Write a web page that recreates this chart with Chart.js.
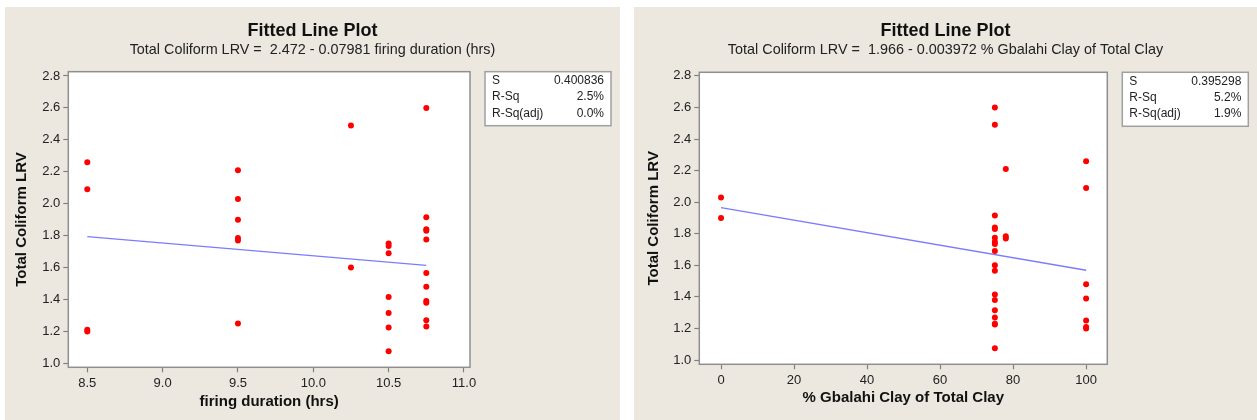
<!DOCTYPE html>
<html>
<head>
<meta charset="utf-8">
<script src="https://cdn.jsdelivr.net/npm/chart.js@4"></script>
<style>
  html, body { margin: 0; padding: 0; background: #fff; }
  body { width: 1257px; height: 420px; position: relative; overflow: hidden; }
  .panel { position: absolute; top: 7px; height: 413px; background: #ECE8DF; }
  #panelA { left: 5px; width: 615px; }
  #panelB { left: 634px; width: 623px; }
  canvas { display: block; }
</style>
</head>
<body>
<div class="panel" id="panelA"><canvas id="chartA" width="615" height="413"></canvas></div>
<div class="panel" id="panelB"><canvas id="chartB" width="623" height="413"></canvas></div>
<script>
// one entry per filter sample, same order in all three arrays
const firingHrs = [8.5, 8.5, 8.5, 8.5,
  9.5, 9.5, 9.5, 9.5, 9.5, 9.5,
  10.25, 10.25,
  10.5, 10.5, 10.5, 10.5, 10.5, 10.5, 10.5,
  10.75, 10.75, 10.75, 10.75, 10.75, 10.75, 10.75, 10.75, 10.75, 10.75, 10.75];
const gbalahiPct = [100, 100, 100, 100,
  78, 0, 0, 78, 78, 100,
  75, 75,
  75, 75, 75, 75, 75, 75, 75,
  75, 75, 75, 75, 75, 75, 100, 100, 75, 75, 75];
const coliformLRV = [2.26, 2.09, 1.21, 1.20,
  2.21, 2.03, 1.90, 1.785, 1.77, 1.25,
  2.49, 1.60,
  1.75, 1.735, 1.69, 1.415, 1.315, 1.225, 1.075,
  2.60, 1.915, 1.84, 1.83, 1.775, 1.565, 1.48, 1.39, 1.38, 1.27, 1.23];

const lrvTicks = [1.0, 1.2, 1.4, 1.6, 1.8, 2.0, 2.2, 2.4, 2.6, 2.8];
const hrsTicks = [8.5, 9.0, 9.5, 10.0, 10.5, 11.0];
const pctTicks = [0, 20, 40, 60, 80, 100];

// regression coefficients: [intercept, slope]
const hrsFit = [2.472, -0.07981];
const pctFit = [1.966, -0.003972];

const statNames = ['S', 'R-Sq', 'R-Sq(adj)'];
const hrsStats = ['0.400836', '2.5%', '0.0%'];
const pctStats = ['0.395298', '5.2%', '1.9%'];

const FAMILY = '"Liberation Sans", Arial, sans-serif';

// white plot area, grey frame, and the S / R-Sq summary box beside it
const plotFrame = {
  id: 'plotFrame',
  beforeDraw(chart) {
    const { ctx, chartArea: a } = chart;
    ctx.save();
    ctx.fillStyle = '#fff';
    ctx.fillRect(a.left, a.top, a.width, a.height);
    ctx.restore();
  },
  afterDraw(chart, args, opts) {
    const { ctx, chartArea: a } = chart;
    ctx.save();
    ctx.strokeStyle = '#8f8f8f';
    ctx.lineWidth = 1.5;
    ctx.strokeRect(a.left, a.top, a.width, a.height);

    const bx = a.right + 15, by = a.top, bw = 126, bh = 54;
    ctx.fillStyle = '#fff';
    ctx.fillRect(bx, by, bw, bh);
    ctx.strokeStyle = '#a0a0a0';
    ctx.strokeRect(bx, by, bw, bh);
    ctx.font = '12px ' + FAMILY;
    ctx.fillStyle = '#222';
    ctx.textBaseline = 'middle';
    opts.names.forEach((name, i) => {
      const ty = by + 9 + i * 16.3;
      ctx.textAlign = 'left';
      ctx.fillText(name, bx + 7, ty);
      ctx.textAlign = 'right';
      ctx.fillText(opts.values[i], bx + bw - 7, ty);
    });
    ctx.restore();
  }
};

function fittedLine(xs, coef) {
  const lo = Math.min(...xs), hi = Math.max(...xs);
  return [lo, hi].map(x => ({ x: x, y: coef[0] + coef[1] * x }));
}

function makeChart(id, xs, xTicks, xDigits, xRange, yRange, coef, stats, xTitle, L) {
  const points = xs.map((x, i) => ({ x: x, y: coliformLRV[i] }));
  const subtitle = 'Total Coliform LRV =  ' + coef[0] + ' - ' + (-coef[1]) + ' ' + xTitle;
  const tickFont = { family: FAMILY, size: 13 };
  const axisFont = { family: FAMILY, size: 15, weight: 'bold' };

  return new Chart(document.getElementById(id), {
    type: 'scatter',
    data: {
      datasets: [
        {
          data: points,
          pointRadius: 3,
          pointBackgroundColor: '#ff0000',
          pointBorderWidth: 0,
          order: 1
        },
        {
          type: 'line',
          data: fittedLine(xs, coef),
          borderColor: 'rgba(100,100,255,0.85)',
          borderWidth: 1.3,
          pointRadius: 0,
          fill: false,
          order: 2
        }
      ]
    },
    plugins: [plotFrame],
    options: {
      responsive: false,
      animation: false,
      layout: { padding: 0 },
      plugins: {
        legend: { display: false },
        tooltip: { enabled: false },
        title: {
          display: true,
          text: 'Fitted Line Plot',
          color: '#111',
          font: { family: FAMILY, size: 18, weight: 'bold' },
          padding: { top: 13.2, bottom: 0 }
        },
        subtitle: {
          display: true,
          text: subtitle,
          color: '#222',
          font: { family: FAMILY, size: 14.4 },
          padding: { top: 0, bottom: L.subB }
        },
        plotFrame: { names: statNames, values: stats }
      },
      scales: {
        x: {
          type: 'linear',
          min: xRange[0],
          max: xRange[1],
          afterBuildTicks: s => { s.ticks = xTicks.map(v => ({ value: v })); },
          afterFit: s => { s.height = L.xh; },
          grid: { drawOnChartArea: false, color: '#808080', tickLength: 5, tickWidth: 1.2 },
          border: { display: false },
          ticks: { padding: 3, color: '#222', font: tickFont, callback: v => Number(v).toFixed(xDigits) },
          title: { display: true, text: xTitle, color: '#111', font: axisFont, padding: { top: 0, bottom: L.xtb } }
        },
        y: {
          type: 'linear',
          min: yRange[0],
          max: yRange[1],
          afterBuildTicks: s => { s.ticks = lrvTicks.map(v => ({ value: v })); },
          afterFit: s => { s.width = L.yw; },
          grid: { drawOnChartArea: false, color: '#808080', tickLength: 5, tickWidth: 1.2 },
          border: { display: false },
          ticks: { padding: 3, color: '#222', font: tickFont, callback: v => Number(v).toFixed(1) },
          title: { display: true, text: 'Total Coliform LRV', color: '#111', font: axisFont, padding: { top: L.ytt, bottom: 0 } }
        },
        // empty axis that keeps room on the right for the summary box
        pad: {
          type: 'linear',
          axis: 'y',
          position: 'right',
          grid: { display: false },
          border: { display: false },
          ticks: { display: false },
          afterFit: s => { s.width = L.padW; }
        }
      }
    }
  });
}

makeChart('chartA', firingHrs, hrsTicks, 1, [8.374, 11.04], [0.975, 2.827],
  hrsFit, hrsStats, 'firing duration (hrs)',
  { yw: 63.3, padW: 150, xh: 52.7, xtb: 9.3, ytt: 7.7, subB: 12.6 });

makeChart('chartB', gbalahiPct, pctTicks, 0, [-5.95, 105.8], [0.973, 2.823],
  pctFit, pctStats, '% Gbalahi Clay of Total Clay',
  { yw: 65.3, padW: 149.7, xh: 55.7, xtb: 12.7, ytt: 10.4, subB: 13.2 });
</script>
</body>
</html>
